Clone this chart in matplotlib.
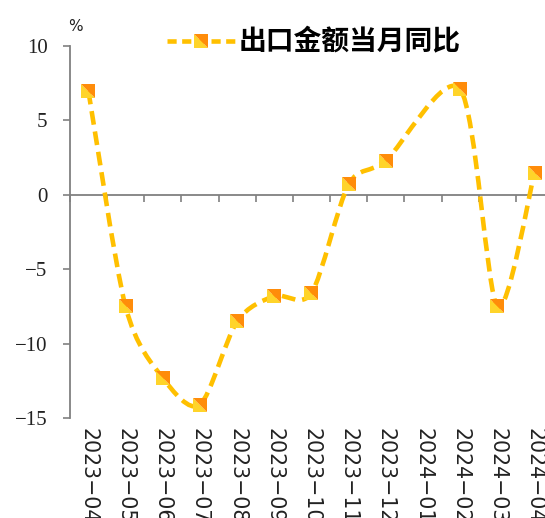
import numpy as np
import matplotlib
matplotlib.use("Agg")
import matplotlib.pyplot as plt
from matplotlib.lines import Line2D
from matplotlib.path import Path
from matplotlib.transforms import ScaledTranslation

plt.rcParams['font.family'] = ['DejaVu Sans']

months = ["2023-04", "2023-05", "2023-06", "2023-07", "2023-08", "2023-09",
          "2023-10", "2023-11", "2023-12", "2024-01", "2024-02", "2024-03",
          "2024-04"]
export_yoy = [7.0, -7.5, -12.3, -14.1, -8.5, -6.8, -6.6, 0.7, 2.3,
              np.nan, 7.1, -7.5, 1.5]
series_name = "出口金额当月同比"
yticks = [10, 5, 0, -5, -10, -15]

LINE = "#FFC000"
MK_TOP = "#FF8C0A"
MK_BOT = "#FFD42A"
AXIS = "#808080"
TXT = "#222222"

# square marker split along its diagonal: upper-right / lower-left halves
TRI_UR = Path([(-1, 1), (1, 1), (1, -1), (-1, 1)], closed=True)
TRI_LL = Path([(-1, 1), (-1, -1), (1, -1), (-1, 1)], closed=True)
MS = 10.5

fig = plt.figure(figsize=(5.45, 5.18), dpi=100)
ax = fig.add_axes([0.128, 0.193, 0.887, 0.718])

x = np.arange(len(months))
y = np.array(export_yoy, dtype=float)
ax.set_xlim(-0.5, len(months) - 0.5)
ax.set_ylim(-15, 10)

# smoothed line through valid points (Catmull-Rom Bezier in display space)
ok = ~np.isnan(y)
pts = ax.transData.transform(np.column_stack([x[ok], y[ok]]))
n = len(pts)
k = 0.85
handles = []
for i in range(n):
    a = pts[i - 1] if i > 0 else pts[i]
    b = pts[i + 1] if i + 1 < n else pts[i]
    handles.append((b - a) / 6.0 * k)

verts = [pts[0]]
codes = [Path.MOVETO]
for i in range(n - 1):
    p1, p2 = pts[i], pts[i + 1]
    verts += [p1 + handles[i], p2 - handles[i + 1], p2]
    codes += [Path.CURVE4] * 3
curve = Path(verts, codes).to_polygons(closed_only=False)[0]
curve_data = ax.transData.inverted().transform(curve)
ax.plot(curve_data[:, 0], curve_data[:, 1], color=LINE, lw=3.3,
        dashes=(3.0, 1.5), dash_capstyle='butt', zorder=3)
ax.plot(x[ok], y[ok], linestyle='none', marker=TRI_LL, markersize=MS,
        markerfacecolor=MK_BOT, markeredgewidth=0, zorder=4)
ax.plot(x[ok], y[ok], linestyle='none', marker=TRI_UR, markersize=MS,
        markerfacecolor=MK_TOP, markeredgewidth=0, zorder=5)

# axes styling
for s in ['top', 'right']:
    ax.spines[s].set_visible(False)
ax.spines['left'].set_color(AXIS)
ax.spines['left'].set_linewidth(1.3)
ax.spines['bottom'].set_position(('data', 0))
ax.spines['bottom'].set_color(AXIS)
ax.spines['bottom'].set_linewidth(1.3)

ax.set_yticks(yticks)
ax.set_yticklabels([f"{v:g}".replace("-", "\u2212") for v in yticks])
ax.tick_params(axis='y', direction='out', length=5, width=1.2, color=AXIS,
               labelsize=15, pad=11, labelcolor=TXT)
for lab in ax.get_yticklabels():
    lab.set_family(['Liberation Serif', 'DejaVu Serif'])
ax.set_xticks(np.arange(len(months) + 1) - 0.5)
ax.set_xticklabels([])
ax.tick_params(axis='x', direction='out', length=5, width=1.2, color=AXIS)

label_offset = ax.transData + ScaledTranslation(0, -0.10, fig.dpi_scale_trans)
for xi, lab in zip(x, months):
    ax.text(xi, -15, lab.replace("-", "\u2212"), rotation=270, ha='center',
            va='top', fontsize=14.8, color=TXT, transform=label_offset,
            clip_on=False)

fig.text(0.125, 0.935, "%", fontsize=11, color=TXT, ha='left', va='bottom')

h_line = Line2D([], [], color=LINE, lw=3.3, dashes=(2.0, 1.2))
h_ll = Line2D([], [], linestyle='none', marker=TRI_LL, markersize=MS,
              markerfacecolor=MK_BOT, markeredgewidth=0)
h_ur = Line2D([], [], linestyle='none', marker=TRI_UR, markersize=MS,
              markerfacecolor=MK_TOP, markeredgewidth=0)
fig.legend([(h_line, h_ll, h_ur)], [series_name], loc='center left',
           bbox_to_anchor=(0.26, 0.918), frameon=False, handlelength=2.5,
           handletextpad=0.1,
           prop={'family': ['Noto Sans CJK SC', 'DejaVu Sans'],
                 'size': 20, 'weight': 'bold'})

fig.savefig("out.png", dpi=100)
